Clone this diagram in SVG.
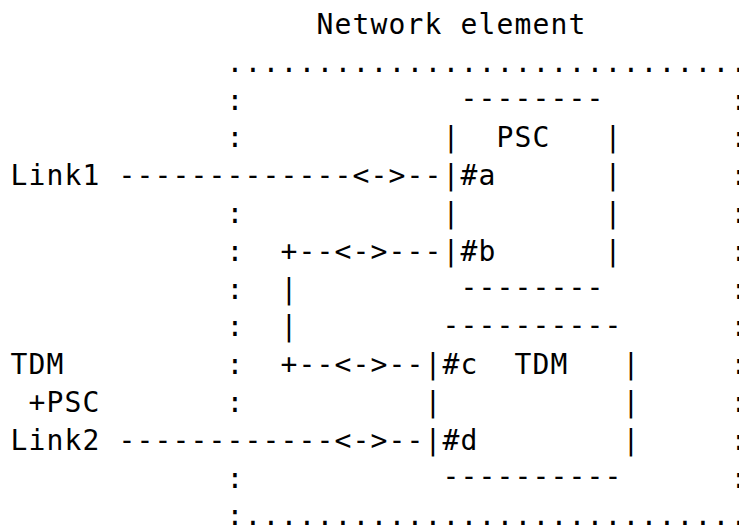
<svg xmlns="http://www.w3.org/2000/svg" width="739" height="525" viewBox="0 0 739 525">
<style>
text{font-family:"DejaVu Sans Mono","Liberation Mono",monospace;font-size:28px;letter-spacing:1.14px;fill:#000;white-space:pre}
</style>
<rect width="739" height="525" fill="#fff"/>
<g id="network-element">
<text x="316.6" y="34">Network element</text>
<text x="226.6" y="71.8">.............................</text>
<text x="226.6" y="109.6">:</text>
<text x="226.6" y="147.4">:</text>
<text x="226.6" y="223">:</text>
<text x="226.6" y="260.8">:</text>
<text x="226.6" y="298.6">:</text>
<text x="226.6" y="336.4">:</text>
<text x="226.6" y="374.2">:</text>
<text x="226.6" y="412">:</text>
<text x="226.6" y="487.6">:</text>
<text x="226.6" y="525.4">:............................</text>
<text x="730.6" y="109.6">:</text>
<text x="730.6" y="147.4">:</text>
<text x="730.6" y="185.2">:</text>
<text x="730.6" y="223">:</text>
<text x="730.6" y="260.8">:</text>
<text x="730.6" y="298.6">:</text>
<text x="730.6" y="336.4">:</text>
<text x="730.6" y="374.2">:</text>
<text x="730.6" y="412">:</text>
<text x="730.6" y="449.8">:</text>
<text x="730.6" y="487.6">:</text>
</g>
<g id="psc">
<text x="460.6" y="108">--------</text>
<text x="442.6" y="147.4">|</text>
<text x="496.6" y="147.4">PSC</text>
<text x="604.6" y="147.4">|</text>
<text x="442.6" y="185.2">|#a</text>
<text x="604.6" y="185.2">|</text>
<text x="442.6" y="223">|</text>
<text x="604.6" y="223">|</text>
<text x="442.6" y="260.8">|#b</text>
<text x="604.6" y="260.8">|</text>
<text x="460.6" y="297">--------</text>
</g>
<g id="tdm">
<text x="442.6" y="334.8">----------</text>
<text x="424.6" y="374.2">|#c</text>
<text x="514.6" y="374.2">TDM</text>
<text x="622.6" y="374.2">|</text>
<text x="424.6" y="412">|</text>
<text x="622.6" y="412">|</text>
<text x="424.6" y="449.8">|#d</text>
<text x="622.6" y="449.8">|</text>
<text x="442.6" y="486">----------</text>
</g>
<g id="link1">
<text x="10.6" y="185.2">Link1</text>
</g>
<g id="tdm-psc-link2">
<text x="10.6" y="374.2">TDM</text>
<text x="28.6" y="412">+PSC</text>
<text x="10.6" y="449.8">Link2</text>
</g>
<g id="connectors">
<text x="118.6" y="185.2">-------------&lt;-&gt;--</text>
<text x="280.6" y="260.8">+--&lt;-&gt;---</text>
<text x="280.6" y="298.6">|</text>
<text x="280.6" y="336.4">|</text>
<text x="280.6" y="374.2">+--&lt;-&gt;--</text>
<text x="118.6" y="449.8">------------&lt;-&gt;--</text>
</g>
</svg>
